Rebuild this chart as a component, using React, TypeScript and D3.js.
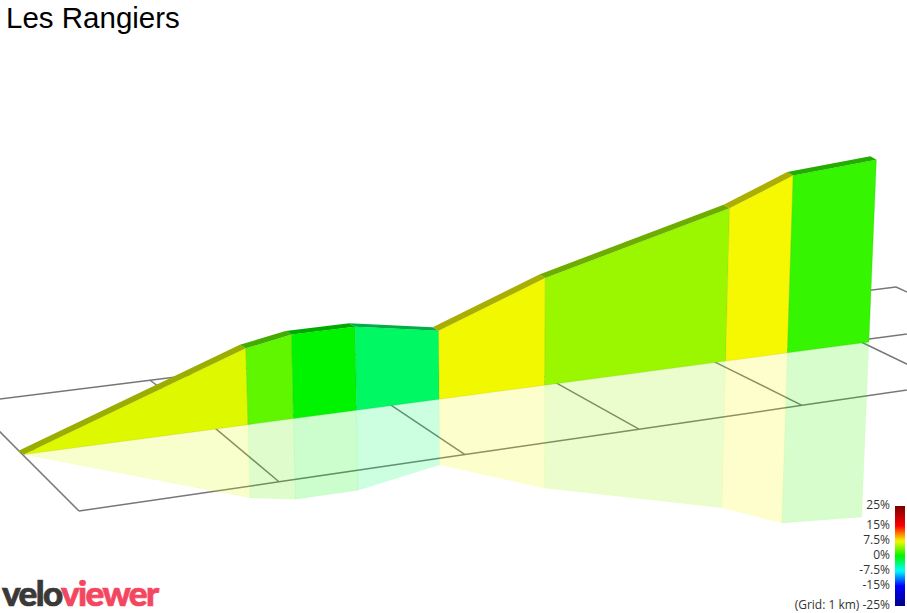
import * as d3 from "d3"

const title = "Les Rangiers"

// climb profile: km from start, metres gained, grade of the section ending there
const profileKm = [0, 1.2, 1.46, 1.82, 2.31, 2.95, 4.1, 4.52, 5.09]
const profileElev = [0, 78.5, 88, 89.5, 76, 125, 195, 234.5, 253.5]
const sectionGrade = [6.7, 2.9, 0, -2.9, 7.3, 4.7, 7.4, 1.6]

// floor grid, 1 km squares
const gridKm = [0, 1, 2, 3, 4, 5, 6]
const backPx = [-29, 150, 315, 471, 624, 773, 896]
const midPx = [20, 213, 388, 553, 711, 858, 979]
const frontPx = [79, 279, 465, 639, 802, 948, 1090]

const legendTicks = ["25%", "15%", "7.5%", "0%", "-7.5%", "-15%", "-25%"]
const legendGrades = [25, 15, 7.5, 0, -7.5, -15, -25]
const gradeStops = [-25, -15, -7.5, 0, 7.5, 15, 25]
const gradeColors = ["#00008b", "#0000ff", "#00ffff", "#00f400", "#f8f800", "#ff0000", "#7a0000"]

const WIDTH = 907
const HEIGHT = 613
const FONT = "'Open Sans', sans-serif"

const xBack = d3.scaleLinear(gridKm, backPx)
const xMid = d3.scaleLinear(gridKm, midPx)
const xFront = d3.scaleLinear(gridKm, frontPx)
const yBack = d3.scaleLinear([0, 896], [399, 287])
const yMid = d3.scaleLinear([20, 907], [452, 334])
const yFront = d3.scaleLinear([79, 907], [511, 390])
const yBase = d3.scaleLinear([20, 869], [455, 342])

// the wall starts a touch in front of the grid corner
const wallShift = d3.scaleLinear([0, 1.2], [4, 0]).clamp(true)
// things further along the climb sit further from the camera
const pxPerMetre = d3.scaleLinear([0, 5.07], [1.05, 0.72])
const leanPerPx = d3.scaleLinear([500, 869], [0, 0.0413])
const REFLECT = 0.96

const gradeColor = d3.scaleLinear<string>(gradeStops, gradeColors).clamp(true)

const darken = (c: string) => {
  const { r, g, b } = d3.rgb(c)
  return d3.rgb(r * 0.7, g * 0.7, b * 0.7).formatRgb()
}

type Pt = [number, number]
const wallPoint = (i: number, k: number): Pt => {
  const km = profileKm[i]
  const x = xMid(km) + wallShift(km)
  const h = profileElev[i] * pxPerMetre(km) * k
  return [x + h * leanPerPx(x), yBase(x) - h]
}
const poly = (pts: Pt[]) => (d3.line()(pts) ?? "") + "Z"

const sections = sectionGrade.map((g, i) => ({
  key: i,
  color: gradeColor(g),
  wall: poly([wallPoint(i, 0), wallPoint(i + 1, 0), wallPoint(i + 1, 1), wallPoint(i, 1)]),
  shadow: poly([wallPoint(i, 0), wallPoint(i + 1, 0), wallPoint(i + 1, -REFLECT), wallPoint(i, -REFLECT)]),
  road: poly(
    [wallPoint(i, 1), wallPoint(i + 1, 1)]
      .concat([wallPoint(i + 1, 1), wallPoint(i, 1)].map(([x, y]) => [x - 6, y - 3.5] as Pt))
  ),
}))

function Grid() {
  const rows: [number, number][][] = [
    gridKm.map((k) => [xBack(k), yBack(xBack(k))]),
    gridKm.map((k) => [xMid(k), yMid(xMid(k))]),
    gridKm.map((k) => [xFront(k), yFront(xFront(k))]),
  ]
  const line = d3.line()
  return (
    <g fill="none" stroke="#777" strokeWidth={1.5}>
      {rows.map((r, i) => (
        <path key={i} d={line(r) ?? ""} />
      ))}
      {gridKm.map((_, i) => (
        <path key={i} d={line(rows.map((r) => r[i])) ?? ""} />
      ))}
    </g>
  )
}

function Legend() {
  const barY = d3.scaleLinear([25, -25], [506, 606])
  const labelY = d3.scaleLinear([25, -25], [505, 605])
  return (
    <g>
      <defs>
        <linearGradient id="grade" x1="0" x2="0" y1="0" y2="1">
          {d3.range(0, 51).map((s) => (
            <stop key={s} offset={s / 50} stopColor={gradeColor(25 - s)} />
          ))}
        </linearGradient>
      </defs>
      <rect x={895} y={barY(25)} width={10} height={barY(-25) - barY(25)} fill="url(#grade)" />
      {legendTicks.map((t, i) => (
        <text
          key={t}
          x={890}
          y={labelY(legendGrades[i])}
          dy="0.36em"
          textAnchor="end"
          fontSize={12}
          fill="#333"
          fontFamily={FONT}
        >
          {legendGrades[i] === -25 ? `(Grid: 1 km) ${t}` : t}
        </text>
      ))}
    </g>
  )
}

export default function App() {
  return (
    <svg
      width={WIDTH}
      height={HEIGHT}
      viewBox={`0 0 ${WIDTH} ${HEIGHT}`}
      style={{ position: "fixed", left: 0, top: 0, display: "block", background: "#fff" }}
    >
      <Grid />
      {sections.map((s) => (
        <path key={s.key} d={s.shadow} fill={s.color} fillOpacity={0.2} stroke={s.color} strokeOpacity={0.05} />
      ))}
      {sections.map((s) => (
        <path key={s.key} d={s.road} fill={darken(s.color)} />
      ))}
      {sections.map((s) => (
        <path key={s.key} d={s.wall} fill={s.color} stroke={darken(s.color)} strokeOpacity={0.25} strokeWidth={0.8} />
      ))}
      <text x={6} y={28} fontSize={29.5} fontFamily="'Liberation Sans', Arial, sans-serif" fill="#000">
        {title}
      </text>
      <Legend />
      <text
        x={2}
        y={606}
        fontSize={35}
        fontWeight={900}
        fontFamily="Lato, sans-serif"
        letterSpacing={-1.6}
        strokeWidth={0.7}
      >
        <tspan fill="#3b3938" stroke="#3b3938">velo</tspan>
        <tspan fill="#f4475f" stroke="#f4475f">viewer</tspan>
      </text>
    </svg>
  )
}
